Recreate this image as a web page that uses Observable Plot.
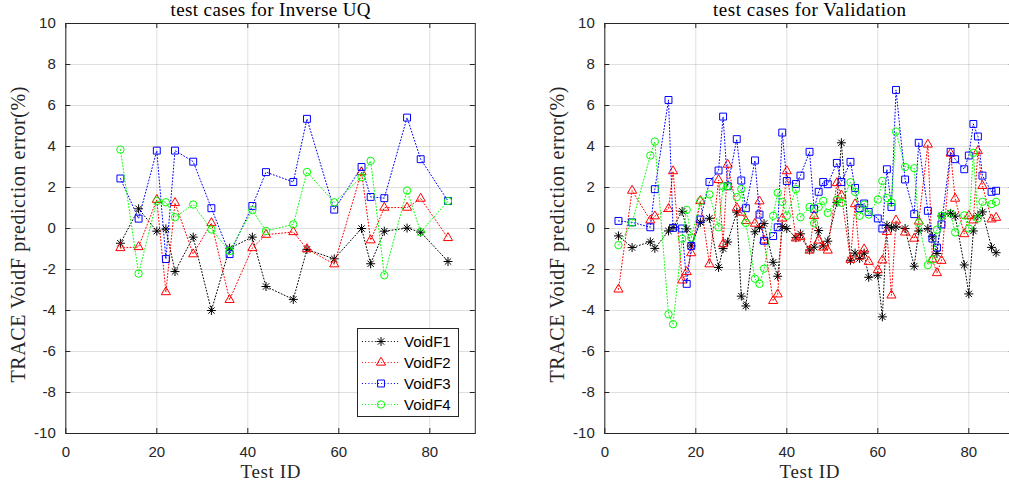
<!DOCTYPE html>
<html><head><meta charset="utf-8">
<script src="https://cdn.jsdelivr.net/npm/d3@7"></script>
<script src="https://cdn.jsdelivr.net/npm/@observablehq/plot@0.6"></script>
<style>
body{margin:0;background:#fff;}
#wrap{position:relative;width:1009px;height:486px;overflow:hidden;background:#fff;}
.panel{position:absolute;top:0;height:486px;}
.panel svg{max-width:none !important;display:block;}
#legend{position:absolute;left:357px;top:328px;width:102px;height:89px;border:1px solid #262626;background:#fff;box-sizing:border-box;font:15px "Liberation Sans",Arial,sans-serif;color:#000;padding-top:2px;}
#legend .row{height:21px;display:flex;align-items:center;}
#legend svg{display:block;}
</style></head>
<body><div id="wrap"><div id="left" class="panel" style="left:0;width:540px"></div><div id="right" class="panel" style="left:539px;width:480px"></div><div id="legend"></div></div>
<script>
const xTicks = [0, 20, 40, 60, 80];
const yTicks = [-10, -8, -6, -4, -2, 0, 2, 4, 6, 8, 10];
const seriesNames = ["VoidF1", "VoidF2", "VoidF3", "VoidF4"];
const seriesColors = ["#000000", "#ff0000", "#0000ff", "#00ff00"];
const titleUQ = "test cases for Inverse UQ";
const titleVal = "test cases for Validation";
const xLabel = "Test ID";
const yLabel = "TRACE VoidF prediction error(%)";

// Inverse UQ test cases
const uqIds = [12, 16, 20, 22, 24, 28, 32, 36, 41, 44, 50, 53, 59, 65, 67, 70, 75, 78, 84];
const uqF1 = [-0.72, 0.96, -0.13, -0.02, -2.1, -0.42, -4.0, -0.96, -0.42, -2.83, -3.46, -1.02, -1.48, 0.0, -1.72, -0.13, 0.02, -0.18, -1.61];
const uqF2 = [-0.95, -0.9, 1.4, -3.1, 1.25, -1.25, 0.27, -3.48, -0.95, -0.3, -0.17, -1.0, -1.74, 2.75, -0.57, 1.02, 1.02, 1.46, -0.46];
const uqF3 = [2.44, 0.48, 3.8, -1.49, 3.8, 3.26, 0.99, -1.25, 1.1, 2.75, 2.27, 5.35, 0.92, 3.0, 1.54, 1.48, 5.41, 3.38, 1.34];
const uqF4 = [3.85, -2.2, 1.34, 1.28, 0.55, 1.17, -0.05, -1.1, 0.9, -0.12, 0.2, 2.76, 1.28, 2.5, 3.3, -2.28, 1.85, -0.17, 1.34];

// Validation test cases
const valIds = [3, 6, 10, 11, 14, 15, 17, 18, 19, 21, 23, 25, 26, 27, 29, 30, 31, 33, 34, 35, 37, 38, 39, 40, 42, 43, 45, 46, 47, 48, 49, 51, 52, 54, 55, 56, 57, 58, 60, 61, 62, 63, 64, 66, 68, 69, 71, 72, 73, 74, 76, 77, 79, 80, 81, 82, 83, 85, 86];
const valF1 = [-0.36, -0.93, -0.65, -0.97, -0.12, 0.05, 0.84, -0.02, -0.85, 0.3, 0.5, -1.9, -0.98, -0.66, 0.8, -3.3, -3.78, -0.16, 0.04, 0.24, -1.65, -2.33, 0.09, 0.0, -0.45, -0.26, -1.05, -0.91, -0.1, -0.85, -0.62, 1.27, 4.18, -1.55, -1.2, -1.46, -1.2, -2.38, -2.28, -4.31, 0.16, 0.03, 0.08, 0.0, -1.84, -0.12, 0.0, -0.4, -1.22, 0.61, 0.74, 0.6, -1.78, -3.19, -0.12, 0.62, 0.81, -0.92, -1.18];
const valF2 = [-2.97, 1.85, 0.4, 0.6, 0.96, 2.8, -2.53, -2.12, -1.2, 1.35, -1.74, 2.37, -0.76, 3.12, 1.0, 0.78, 0.37, 0.24, 1.33, -0.58, -3.53, -3.21, 0.49, 2.8, -0.48, -0.4, -1.07, 0.62, -0.58, -0.92, -1.07, 2.22, 1.62, -1.52, 1.19, -1.37, -1.01, -1.62, -2.03, -1.55, -0.16, -3.26, 0.4, -0.19, -0.49, 0.35, 4.1, -1.51, -2.17, -1.57, 3.66, 1.46, -0.27, 0.62, 0.4, 3.78, 2.08, 0.45, 0.53];
const valF3 = [0.37, 0.3, 0.06, 1.92, 6.27, 0.03, 0.0, -2.7, -0.85, 0.44, 2.27, 2.83, 5.46, 2.06, 4.36, 2.34, 0.99, 3.32, 0.68, -0.6, -0.37, 0.06, 4.68, 2.32, 2.17, 2.58, 3.74, 0.96, 1.79, 2.27, 2.16, 3.2, 2.27, 3.25, 1.98, 1.0, 1.22, 0.81, 0.49, 0.0, 2.89, 1.05, 6.76, 2.39, 0.7, 4.18, 0.86, -0.49, -0.93, 0.2, 3.74, 3.38, 2.89, 3.56, 5.1, 4.49, 2.58, 1.79, 1.84];
const valF4 = [-0.81, 0.29, 3.56, 4.24, -4.18, -4.67, -0.5, 0.91, -0.45, 1.34, 1.66, 0.06, 2.05, 2.06, 1.53, 1.92, 0.27, -2.45, -2.7, -1.96, 0.62, 1.74, 1.3, 0.62, 1.92, 0.55, 1.05, 0.26, 1.04, 1.35, 0.76, 1.4, 1.25, 2.26, 1.79, 0.62, 1.17, 0.68, 1.41, 2.32, 1.49, 1.27, 4.73, 3.0, 2.94, 0.27, -1.78, -1.52, -0.06, 0.62, 0.73, -0.19, 0.64, 0.0, 3.69, 0.49, 1.3, 1.19, 1.3];

const serif = "'Liberation Serif', 'DejaVu Serif', serif";
const sans = "'Liberation Sans', Arial, sans-serif";
const axisColor = "#262626";
// rendered widths of the LaTeX-style texts in the reference
const textWidths = {[titleUQ]: 200, [titleVal]: 193, [xLabel]: 60, [yLabel]: 296};

function seriesRows(ids, vals) {
  return ids.map((id, i) => ({id, v: vals[i]}));
}

function seriesMarks(data, k) {
  const c = seriesColors[k];
  const marks = [Plot.line(data, {x: "id", y: "v", stroke: c, strokeWidth: 1, strokeDasharray: "1,2.2"})];
  if (k === 0) {
    marks.push(Plot.dot(data, {x: "id", y: "v", symbol: "plus", r: 3, stroke: c, fill: "none", strokeWidth: 1}));
    marks.push(Plot.dot(data, {x: "id", y: "v", symbol: "times", r: 3, stroke: c, fill: "none", strokeWidth: 1}));
  } else if (k === 1) {
    marks.push(Plot.dot(data, {x: "id", y: "v", symbol: "triangle", r: 3.4, stroke: c, fill: "none", strokeWidth: 1}));
  } else if (k === 2) {
    marks.push(Plot.dot(data, {x: "id", y: "v", symbol: "square", r: 3.9, stroke: c, fill: "none", strokeWidth: 1}));
  } else {
    marks.push(Plot.dot(data, {x: "id", y: "v", symbol: "circle", r: 3.7, stroke: c, fill: "none", strokeWidth: 1}));
  }
  return marks;
}

function panel(title, ids, seriesVals, width, marginRight) {
  const mL = 65.3, mT = 23, mB = 53, H = 486;
  const plotH = H - mT - mB;
  const plotW = width - mL - marginRight;
  const marks = [
    Plot.gridX(xTicks, {stroke: axisColor, strokeOpacity: 0.15, strokeWidth: 1}),
    Plot.gridY(yTicks, {stroke: axisColor, strokeOpacity: 0.15, strokeWidth: 1}),
  ];
  seriesVals.forEach((vals, k) => marks.push(...seriesMarks(seriesRows(ids, vals), k)));
  marks.push(
    Plot.tickX(xTicks, {x: d => d, insetTop: plotH - 5, stroke: axisColor}),
    Plot.tickX(xTicks, {x: d => d, insetBottom: plotH - 5, stroke: axisColor}),
    Plot.tickY(yTicks, {y: d => d, insetRight: plotW - 5, stroke: axisColor}),
    Plot.tickY(yTicks, {y: d => d, insetLeft: plotW - 5, stroke: axisColor}),
    Plot.frame({stroke: axisColor, strokeWidth: 1}),
    Plot.axisX(xTicks, {tickSize: 0, tickPadding: 13, tickFormat: d => String(d), fontSize: 15, fontFamily: sans, fill: axisColor, label: null}),
    Plot.axisY(yTicks, {tickSize: 0, tickPadding: 10, tickFormat: d => String(d), fontSize: 15, fontFamily: sans, fill: axisColor, label: null}),
    Plot.text([title], {frameAnchor: "top", textAnchor: "middle", lineAnchor: "middle", dy: -14, fontSize: 19, fontFamily: serif, fill: "#000"}),
    Plot.text([xLabel], {frameAnchor: "bottom", textAnchor: "middle", lineAnchor: "middle", dy: 38, fontSize: 19, fontFamily: serif, fill: "#262626"}),
    Plot.text([yLabel], {frameAnchor: "left", textAnchor: "middle", lineAnchor: "middle", rotate: -90, dx: -47, dy: 6, fontSize: 20, fontFamily: serif, fill: "#262626"})
  );
  const svg = Plot.plot({
    width, height: H, marginLeft: mL, marginRight, marginTop: mT, marginBottom: mB,
    x: {domain: [0, 90]},
    y: {domain: [-10, 10]},
    style: {background: "transparent", overflow: "visible", maxWidth: "none"},
    marks
  });
  d3.select(svg).selectAll("text").each(function() {
    const w = textWidths[this.textContent];
    if (w) d3.select(this).attr("textLength", w).attr("lengthAdjust", "spacing");
  });
  return svg;
}

document.getElementById("left").appendChild(panel(titleUQ, uqIds, [uqF1, uqF2, uqF3, uqF4], 540, 65.2));
document.getElementById("right").appendChild(panel(titleVal, valIds, [valF1, valF2, valF3, valF4], 480, 5.2));

// legend
const symbolTypes = [[d3.symbolPlus, d3.symbolTimes], [d3.symbolTriangle], [d3.symbolSquare], [d3.symbolCircle]];
const symbolR = [3, 3.4, 3.9, 3.7];
const legend = d3.select("#legend");
seriesNames.forEach((name, k) => {
  const row = legend.append("div").attr("class", "row");
  const svg = row.append("svg").attr("width", 46).attr("height", 21);
  svg.append("line").attr("x1", 4).attr("x2", 42).attr("y1", 10.5).attr("y2", 10.5)
    .attr("stroke", seriesColors[k]).attr("stroke-width", 1).attr("stroke-dasharray", "1,2.2");
  symbolTypes[k].forEach(t => {
    svg.append("path").attr("transform", "translate(23,10.5)")
      .attr("d", d3.symbol(t, Math.PI * symbolR[k] * symbolR[k])())
      .attr("fill", "none").attr("stroke", seriesColors[k]).attr("stroke-width", 1);
  });
  row.append("span").text(name);
});
</script>
</body></html>
